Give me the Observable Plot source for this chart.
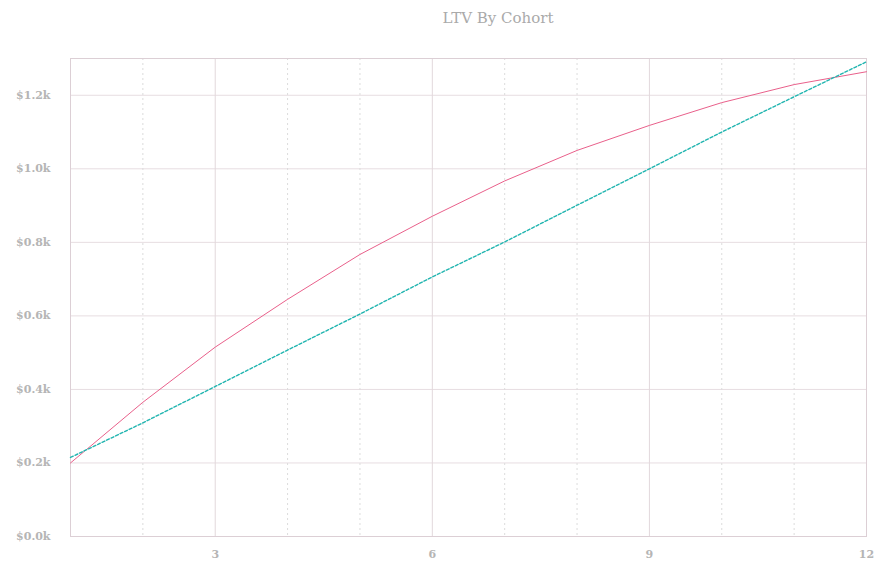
<!DOCTYPE html>
<html>
<head>
<meta charset="utf-8">
<script src="https://cdn.jsdelivr.net/npm/d3@7"></script>
<script src="https://cdn.jsdelivr.net/npm/@observablehq/plot@0.6"></script>
<style>
  body { margin: 0; background: #fff; }
  #title { height: 36px; line-height: 36px; font-family: "DejaVu Serif", serif; font-size: 15px; color: #aaa; padding-left: 110px; text-align: center; box-sizing: border-box; width: 886px; }
</style>
</head>
<body>
<div id="title">LTV By Cohort</div>
<div id="chart"></div>
<script>
const months = [1, 2, 3, 4, 5, 6, 7, 8, 9, 10, 11, 12];
const ltvActual = [200, 365, 515, 645, 767, 871, 967, 1050, 1118, 1180, 1229, 1264];
const ltvTrend = [215, 309, 408, 507, 605, 706, 801, 901, 1000, 1100, 1196, 1291];
const majorX = [3, 6, 9, 12];
const minorX = [2, 4, 5, 7, 8, 10, 11];
const yTicks = [0, 200, 400, 600, 800, 1000, 1200];

const actual = months.map((m, i) => ({ month: m, value: ltvActual[i] }));
const trend = months.map((m, i) => ({ month: m, value: ltvTrend[i] }));

const chart = Plot.plot({
  width: 886,
  height: 538,
  marginLeft: 70,
  marginRight: 20,
  marginTop: 22,
  marginBottom: 38,
  style: { fontFamily: "DejaVu Serif, serif", fontSize: "11px", color: "#b5b5b5", background: "#fff" },
  x: { domain: [1, 12], ticks: majorX, tickSize: 0, tickPadding: 14, label: null },
  y: { domain: [0, 1300], ticks: yTicks, tickSize: 0, tickPadding: 20, label: null,
       tickFormat: d => "$" + (d / 1000).toFixed(1) + "k" },
  marks: [
    Plot.ruleY(yTicks, { stroke: "#e7dde1", strokeWidth: 1 }),
    Plot.ruleX(minorX, { stroke: "#dcdcdc", strokeWidth: 1, strokeDasharray: "2,3" }),
    Plot.ruleX(majorX, { stroke: "#e2d8dc", strokeWidth: 1 }),
    Plot.frame({ stroke: "#dccfd5", strokeWidth: 1 }),
    Plot.line(actual, { x: "month", y: "value", stroke: "#e9608b", strokeWidth: 1 }),
    Plot.line(trend, { x: "month", y: "value", stroke: "#22b5b0", strokeWidth: 1.4, strokeDasharray: "3,2" }),
    Plot.axisX({ ticks: majorX, tickSize: 0, tickPadding: 14, fontWeight: "bold" }),
    Plot.axisY({ ticks: yTicks, tickSize: 0, tickPadding: 20, fontWeight: "bold",
       tickFormat: d => "$" + (d / 1000).toFixed(1) + "k" })
  ]
});
document.getElementById("chart").appendChild(chart);
</script>
</body>
</html>
